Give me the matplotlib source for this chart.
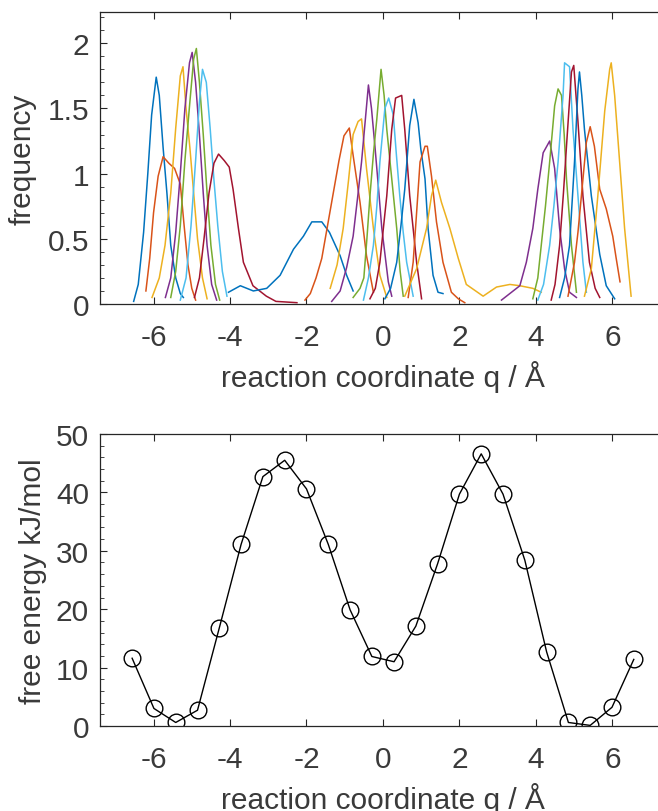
import matplotlib
matplotlib.use("Agg")
import matplotlib.pyplot as plt
from matplotlib.ticker import MultipleLocator

plt.rcParams['font.family'] = ['Liberation Sans', 'DejaVu Sans']
plt.rcParams['axes.unicode_minus'] = False

# umbrella windows: histogram curves (q, frequency)
win_q = [
    [-6.52, -6.40, -6.26, -6.15, -6.05, -5.93, -5.85, -5.75, -5.65, -5.55, -5.42, -5.30, -5.22],
    [-6.20, -6.10, -6.00, -5.88, -5.75, -5.60, -5.45, -5.30, -5.20, -5.10, -5.00, -4.90],
    [-6.04, -5.85, -5.70, -5.55, -5.42, -5.30, -5.23, -5.15, -5.05, -4.95, -4.85, -4.72, -4.60],
    [-5.69, -5.55, -5.42, -5.30, -5.18, -5.06, -4.99, -4.90, -4.80, -4.70, -4.60, -4.48, -4.35],
    [-5.55, -5.42, -5.30, -5.18, -5.05, -4.95, -4.88, -4.80, -4.70, -4.60, -4.50, -4.38, -4.27],
    [-5.30, -5.15, -5.02, -4.90, -4.80, -4.72, -4.62, -4.52, -4.42, -4.32, -4.20, -4.08],
    [-4.93, -4.80, -4.68, -4.55, -4.42, -4.30, -4.15, -4.02, -3.92, -3.78, -3.65, -3.40, -3.05, -2.80, -2.25],
    [-4.04, -3.73, -3.39, -3.04, -2.69, -2.34, -2.08, -1.86, -1.60, -1.40, -1.12, -0.95, -0.78],
    [-2.04, -1.90, -1.75, -1.60, -1.45, -1.30, -1.15, -1.02, -0.88, -0.78, -0.60, -0.43, -0.25],
    [-1.38, -1.20, -1.04, -0.90, -0.78, -0.65, -0.56, -0.43, -0.25, -0.08, 0.10],
    [-1.34, -1.12, -0.95, -0.78, -0.65, -0.56, -0.45, -0.38, -0.30, -0.21, -0.12, -0.03, 0.14, 0.23],
    [-0.78, -0.60, -0.50, -0.42, -0.34, -0.25, -0.16, -0.05, 0.03, 0.10, 0.23, 0.36, 0.45, 0.53],
    [-0.51, -0.38, -0.25, -0.16, -0.08, 0.05, 0.15, 0.27, 0.35, 0.44, 0.53, 0.62, 0.79],
    [-0.34, -0.20, -0.08, 0.00, 0.10, 0.23, 0.33, 0.49, 0.57, 0.70, 0.80, 0.88, 1.01],
    [0.05, 0.20, 0.36, 0.47, 0.57, 0.70, 0.81, 0.92, 0.99, 1.10, 1.18, 1.31, 1.44, 1.57],
    [0.66, 0.79, 0.88, 0.97, 1.10, 1.16, 1.27, 1.40, 1.57, 1.79, 1.97, 2.14],
    [0.57, 0.88, 1.14, 1.27, 1.38, 1.53, 1.75, 1.97, 2.18, 2.62, 2.97, 3.32, 3.58, 3.92, 4.14],
    [3.10, 3.58, 3.75, 3.92, 4.05, 4.19, 4.36, 4.49, 4.62, 4.75, 4.88, 5.06],
    [3.92, 4.05, 4.14, 4.25, 4.36, 4.49, 4.58, 4.67, 4.74, 4.80, 4.93, 5.06],
    [4.05, 4.20, 4.36, 4.47, 4.58, 4.71, 4.75, 4.88, 4.97, 5.10, 5.23, 5.32],
    [4.40, 4.50, 4.62, 4.72, 4.80, 4.93, 4.99, 5.10, 5.23, 5.40, 5.55, 5.67],
    [4.62, 4.75, 4.88, 5.01, 5.10, 5.14, 5.20, 5.27, 5.45, 5.67, 5.84, 6.06],
    [4.84, 5.01, 5.10, 5.19, 5.32, 5.42, 5.53, 5.67, 5.84, 6.01, 6.10, 6.20],
    [5.27, 5.45, 5.62, 5.80, 5.93, 5.97, 6.06, 6.19, 6.32, 6.49],
]
win_freq = [
    [0.02, 0.15, 0.55, 1.00, 1.45, 1.74, 1.60, 1.20, 0.85, 0.45, 0.20, 0.08, 0.05],
    [0.10, 0.35, 0.70, 0.98, 1.13, 1.08, 1.04, 0.92, 0.60, 0.30, 0.12, 0.03],
    [0.05, 0.20, 0.45, 0.85, 1.35, 1.75, 1.82, 1.50, 1.20, 0.85, 0.50, 0.20, 0.04],
    [0.05, 0.20, 0.55, 1.00, 1.50, 1.85, 1.93, 1.70, 1.30, 0.85, 0.45, 0.15, 0.03],
    [0.05, 0.25, 0.60, 1.10, 1.55, 1.88, 1.96, 1.70, 1.30, 0.85, 0.45, 0.15, 0.03],
    [0.03, 0.20, 0.60, 1.10, 1.55, 1.80, 1.70, 1.35, 0.95, 0.60, 0.25, 0.06],
    [0.05, 0.20, 0.50, 0.85, 1.08, 1.15, 1.10, 1.05, 0.88, 0.58, 0.32, 0.14, 0.06, 0.02, 0.01],
    [0.09, 0.14, 0.10, 0.12, 0.22, 0.42, 0.52, 0.63, 0.63, 0.55, 0.37, 0.22, 0.10],
    [0.03, 0.08, 0.20, 0.35, 0.60, 0.85, 1.10, 1.29, 1.35, 1.14, 0.78, 0.37, 0.09],
    [0.12, 0.30, 0.58, 0.95, 1.30, 1.40, 1.42, 1.04, 0.58, 0.22, 0.05],
    [0.02, 0.10, 0.28, 0.52, 0.85, 1.09, 1.45, 1.68, 1.50, 1.21, 0.90, 0.58, 0.17, 0.06],
    [0.05, 0.12, 0.20, 0.50, 0.83, 1.15, 1.42, 1.80, 1.60, 1.34, 0.96, 0.58, 0.25, 0.06],
    [0.03, 0.20, 0.45, 0.75, 1.09, 1.50, 1.58, 1.45, 1.15, 0.83, 0.55, 0.32, 0.06],
    [0.04, 0.12, 0.32, 0.55, 0.83, 1.34, 1.58, 1.60, 1.34, 0.83, 0.55, 0.32, 0.04],
    [0.04, 0.12, 0.32, 0.60, 0.88, 1.37, 1.57, 1.39, 1.19, 0.96, 0.58, 0.22, 0.09, 0.08],
    [0.05, 0.32, 0.70, 1.09, 1.21, 1.21, 0.98, 0.63, 0.32, 0.09, 0.04, 0.01],
    [0.06, 0.27, 0.58, 0.83, 0.95, 0.78, 0.58, 0.35, 0.15, 0.06, 0.13, 0.15, 0.14, 0.12, 0.09],
    [0.03, 0.14, 0.32, 0.58, 0.88, 1.16, 1.25, 1.04, 0.58, 0.27, 0.09, 0.05],
    [0.04, 0.20, 0.45, 0.75, 1.09, 1.52, 1.65, 1.60, 1.30, 0.96, 0.45, 0.09],
    [0.03, 0.15, 0.45, 0.75, 1.09, 1.60, 1.85, 1.82, 1.34, 0.83, 0.32, 0.09],
    [0.03, 0.15, 0.45, 0.85, 1.21, 1.78, 1.83, 1.40, 0.83, 0.32, 0.12, 0.05],
    [0.05, 0.20, 0.45, 1.09, 1.65, 1.78, 1.60, 1.34, 0.83, 0.38, 0.14, 0.04],
    [0.06, 0.32, 0.55, 0.83, 1.24, 1.36, 1.21, 0.88, 0.73, 0.52, 0.35, 0.17],
    [0.06, 0.27, 0.83, 1.48, 1.80, 1.85, 1.60, 1.09, 0.58, 0.06],
]

# free energy profile (window centres)
q_pts = [-6.56, -5.99, -5.42, -4.85, -4.28, -3.71, -3.14, -2.57, -2.00, -1.43, -0.86, -0.29,
         0.29, 0.86, 1.43, 2.00, 2.57, 3.14, 3.71, 4.28, 4.85, 5.42, 5.99, 6.56]
free_energy = [11.6, 3.0, 0.6, 2.7, 16.8, 31.1, 42.7, 45.5, 40.6, 31.1, 19.9, 11.9,
               11.0, 17.1, 27.8, 39.7, 46.6, 39.7, 28.4, 12.7, 0.6, 0.1, 3.2, 11.4]

matlab_colors = ['#0072BD', '#D95319', '#EDB120', '#7E2F8E', '#77AC30', '#4DBEEE', '#A2142F']
axis_col = '#262626'
text_col = '#3a3a3a'
fs = 21.5

fig = plt.figure(figsize=(6.58, 8.12), dpi=100)
ax1 = fig.add_axes([0.152, 0.6244, 0.860, 0.3596])
ax2 = fig.add_axes([0.152, 0.1047, 0.860, 0.3596])

for i in range(len(win_q)):
    ax1.plot(win_q[i], win_freq[i], color=matlab_colors[i % 7], lw=1.1)

ax2.plot(q_pts, free_energy, color='black', lw=1.0, marker='o', markersize=12,
         markerfacecolor='none', markeredgecolor='black', markeredgewidth=1.0)

for ax in (ax1, ax2):
    ax.set_xlim(-7.4, 7.4)
    ax.set_xticks([-6, -4, -2, 0, 2, 4, 6])
    ax.tick_params(direction='in', length=5, width=0.8, colors=axis_col,
                   labelcolor=text_col, labelsize=fs, top=True, right=True)
    ax.tick_params(axis='x', pad=14)
    ax.tick_params(axis='y', pad=8)
    ax.tick_params(which='minor', direction='in', length=3, width=0.6,
                   colors=axis_col, left=True, right=True, bottom=False, top=False)
    for s in ax.spines.values():
        s.set_color(axis_col)
        s.set_linewidth(0.9)
    ax.set_xlabel('reaction coordinate q / Å', fontsize=fs, color=text_col, labelpad=6)

ax1.set_ylim(0, 2.24)
ax1.set_yticks([0, 0.5, 1, 1.5, 2])
ax1.set_yticklabels(['0', '0.5', '1', '1.5', '2'])
ax1.yaxis.set_minor_locator(MultipleLocator(0.1))
ax1.set_ylabel('frequency', fontsize=fs, color=text_col, labelpad=8)

ax2.set_ylim(0, 50)
ax2.set_yticks([0, 10, 20, 30, 40, 50])
ax2.yaxis.set_minor_locator(MultipleLocator(2))
ax2.set_ylabel('free energy kJ/mol', fontsize=fs, color=text_col, labelpad=6)

fig.savefig('out.png', dpi=100)
